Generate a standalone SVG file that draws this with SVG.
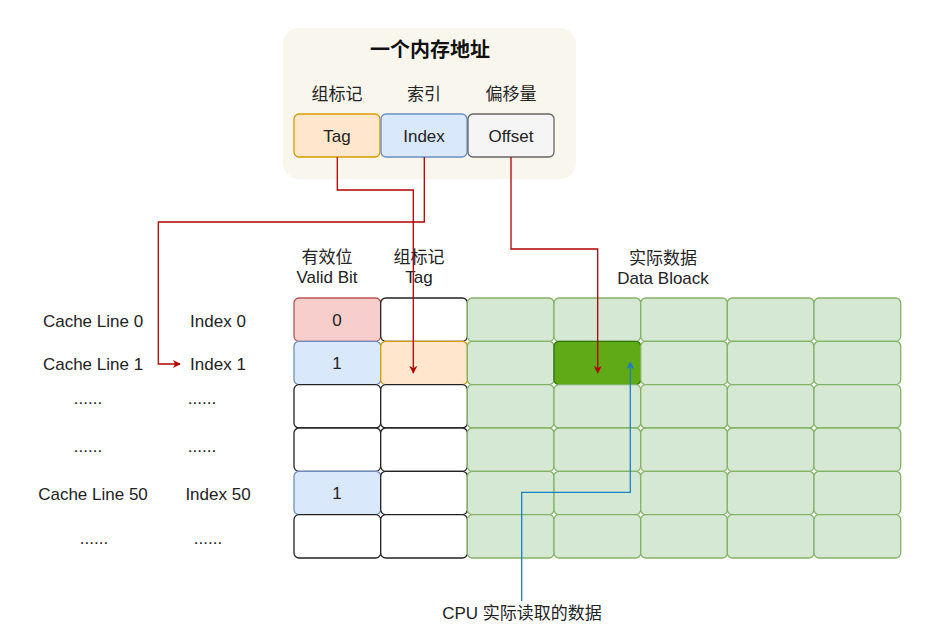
<svg xmlns="http://www.w3.org/2000/svg" width="937" height="636" viewBox="0 0 937 636">
<defs>
<style>
text{font-family:"Liberation Sans","Noto Sans CJK SC",sans-serif;font-size:17px;fill:#222;text-anchor:middle}
.title{font-size:20px;font-weight:bold;fill:#111}
.cell{stroke-width:1.3}
.w{fill:#fff;stroke:#222}
.g{fill:#d5e8d4;stroke:#82b366}
.red{fill:#f8cecc;stroke:#b85450}
.blue{fill:#dae8fc;stroke:#6c8ebf}
.orange{fill:#ffe6cc;stroke:#d79b00}
.grey{fill:#f5f5f5;stroke:#666}
.dg{fill:#60a917;stroke:#2d7600}
.rl{fill:none;stroke:#b20000;stroke-width:1.3}
.bl{fill:none;stroke:#1b80c0;stroke-width:1.3}
</style>
<marker id="ar" viewBox="0 0 10 10" refX="9" refY="5" markerWidth="8" markerHeight="8" orient="auto" markerUnits="userSpaceOnUse"><path d="M0,0 L10,5 L0,10 L3,5 Z" fill="#b20000"/></marker>
<marker id="ab" viewBox="0 0 10 10" refX="9" refY="5" markerWidth="8" markerHeight="8" orient="auto" markerUnits="userSpaceOnUse"><path d="M0,0 L10,5 L0,10 L3,5 Z" fill="#1b80c0"/></marker>
</defs>

<g id="address">
<rect x="283" y="28" width="293" height="151" rx="16" fill="#f9f7ed"/>
<text class="title" x="430" y="57">一个内存地址</text>
<text x="337" y="100">组标记</text>
<text x="424" y="100">索引</text>
<text x="511" y="100">偏移量</text>
</g>
<g id="addr-tag"><rect class="cell orange" x="294" y="114" width="86" height="43" rx="5"/><text x="337" y="142">Tag</text></g>
<g id="addr-index"><rect class="cell blue" x="381" y="114" width="86" height="43" rx="5"/><text x="424" y="142">Index</text></g>
<g id="addr-offset"><rect class="cell grey" x="468" y="114" width="86" height="43" rx="5"/><text x="511" y="142" fill="#333">Offset</text></g>

<g id="headers">
<text x="327" y="263">有效位</text>
<text x="327" y="283">Valid Bit</text>
<text x="419" y="263">组标记</text>
<text x="419" y="283">Tag</text>
<text x="663" y="264">实际数据</text>
<text x="663" y="284">Data Bloack</text>
</g>

<g id="row-labels">
<text x="93" y="327">Cache Line 0</text>
<text x="218" y="327">Index 0</text>
<text x="93" y="370">Cache Line 1</text>
<text x="218" y="370">Index 1</text>
<text x="88" y="404">......</text>
<text x="202" y="404">......</text>
<text x="88" y="452">......</text>
<text x="202" y="452">......</text>
<text x="93" y="500">Cache Line 50</text>
<text x="218" y="500">Index 50</text>
<text x="94" y="544">......</text>
<text x="208" y="544">......</text>
</g>

<g id="valid-col">
<rect class="cell red" x="294" y="298" width="86.7" height="43.3" rx="5"/><text x="337" y="326">0</text>
<rect class="cell blue" x="294" y="341.3" width="86.7" height="43.3" rx="5"/><text x="337" y="369">1</text>
<rect class="cell w" x="294" y="384.7" width="86.7" height="43.3" rx="5"/>
<rect class="cell w" x="294" y="428" width="86.7" height="43.3" rx="5"/>
<rect class="cell blue" x="294" y="471.3" width="86.7" height="43.3" rx="5"/><text x="337" y="499">1</text>
<rect class="cell w" x="294" y="514.7" width="86.7" height="43.3" rx="5"/>
</g>
<g id="tag-col">
<rect class="cell w" x="380.7" y="298" width="86.7" height="43.3" rx="5"/>
<rect class="cell orange" x="380.7" y="341.3" width="86.7" height="43.3" rx="5"/>
<rect class="cell w" x="380.7" y="384.7" width="86.7" height="43.3" rx="5"/>
<rect class="cell w" x="380.7" y="428" width="86.7" height="43.3" rx="5"/>
<rect class="cell w" x="380.7" y="471.3" width="86.7" height="43.3" rx="5"/>
<rect class="cell w" x="380.7" y="514.7" width="86.7" height="43.3" rx="5"/>
</g>
<g id="data-block">
<g id="data-row0">
<rect class="cell g" x="467.3" y="298" width="86.7" height="43.3" rx="5"/><rect class="cell g" x="554" y="298" width="86.7" height="43.3" rx="5"/><rect class="cell g" x="640.7" y="298" width="86.7" height="43.3" rx="5"/><rect class="cell g" x="727.3" y="298" width="86.7" height="43.3" rx="5"/><rect class="cell g" x="814" y="298" width="86.7" height="43.3" rx="5"/>
</g>
<g id="data-row1">
<rect class="cell g" x="467.3" y="341.3" width="86.7" height="43.3" rx="5"/><rect class="cell dg" x="554" y="341.3" width="86.7" height="43.3" rx="5"/><rect class="cell g" x="640.7" y="341.3" width="86.7" height="43.3" rx="5"/><rect class="cell g" x="727.3" y="341.3" width="86.7" height="43.3" rx="5"/><rect class="cell g" x="814" y="341.3" width="86.7" height="43.3" rx="5"/>
</g>
<g id="data-row2">
<rect class="cell g" x="467.3" y="384.7" width="86.7" height="43.3" rx="5"/><rect class="cell g" x="554" y="384.7" width="86.7" height="43.3" rx="5"/><rect class="cell g" x="640.7" y="384.7" width="86.7" height="43.3" rx="5"/><rect class="cell g" x="727.3" y="384.7" width="86.7" height="43.3" rx="5"/><rect class="cell g" x="814" y="384.7" width="86.7" height="43.3" rx="5"/>
</g>
<g id="data-row3">
<rect class="cell g" x="467.3" y="428" width="86.7" height="43.3" rx="5"/><rect class="cell g" x="554" y="428" width="86.7" height="43.3" rx="5"/><rect class="cell g" x="640.7" y="428" width="86.7" height="43.3" rx="5"/><rect class="cell g" x="727.3" y="428" width="86.7" height="43.3" rx="5"/><rect class="cell g" x="814" y="428" width="86.7" height="43.3" rx="5"/>
</g>
<g id="data-row4">
<rect class="cell g" x="467.3" y="471.3" width="86.7" height="43.3" rx="5"/><rect class="cell g" x="554" y="471.3" width="86.7" height="43.3" rx="5"/><rect class="cell g" x="640.7" y="471.3" width="86.7" height="43.3" rx="5"/><rect class="cell g" x="727.3" y="471.3" width="86.7" height="43.3" rx="5"/><rect class="cell g" x="814" y="471.3" width="86.7" height="43.3" rx="5"/>
</g>
<g id="data-row5">
<rect class="cell g" x="467.3" y="514.7" width="86.7" height="43.3" rx="5"/><rect class="cell g" x="554" y="514.7" width="86.7" height="43.3" rx="5"/><rect class="cell g" x="640.7" y="514.7" width="86.7" height="43.3" rx="5"/><rect class="cell g" x="727.3" y="514.7" width="86.7" height="43.3" rx="5"/><rect class="cell g" x="814" y="514.7" width="86.7" height="43.3" rx="5"/>
</g>
</g>

<g id="cpu-label"><text x="522" y="619">CPU 实际读取的数据</text></g>

<g id="connectors">
<path class="rl" d="M337.3,157 V190 H413.3 V373" marker-end="url(#ar)"/>
<path class="rl" d="M424.3,157 V222 H158.3 V364 H180" marker-end="url(#ar)"/>
<path class="rl" d="M511,157 V249 H597.7 V373" marker-end="url(#ar)"/>
<path class="bl" d="M521.7,601 V492.3 H630.3 V362" marker-end="url(#ab)"/>
</g>
</svg>
